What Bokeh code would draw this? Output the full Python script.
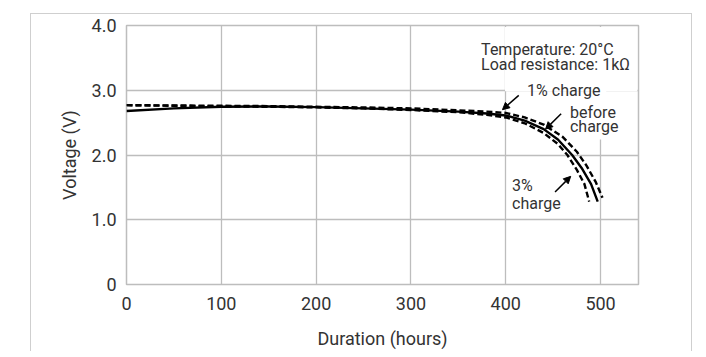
from bokeh.plotting import figure
from bokeh.models import Range1d, FixedTicker, PrintfTickFormatter, Arrow, NormalHead, ColumnDataSource
from bokeh.embed import file_html
from bokeh.resources import INLINE
from bokeh.core.properties import value

# ---- data ----
hours_before = [0, 50, 100, 150, 200, 250, 300, 350, 380, 400, 420, 440, 455, 470, 480, 490, 497]
volts_before = [2.68, 2.72, 2.745, 2.75, 2.74, 2.72, 2.70, 2.67, 2.64, 2.61, 2.53, 2.40, 2.24, 2.00, 1.80, 1.55, 1.28]

hours_1pct = [0, 50, 100, 150, 200, 250, 300, 350, 380, 400, 420, 440, 460, 475, 485, 495, 502]
volts_1pct = [2.77, 2.765, 2.76, 2.755, 2.745, 2.735, 2.72, 2.69, 2.67, 2.65, 2.58, 2.47, 2.28, 2.05, 1.84, 1.58, 1.34]

hours_3pct = [0, 50, 100, 150, 200, 250, 300, 350, 380, 400, 420, 440, 455, 465, 475, 483, 488]
volts_3pct = [2.77, 2.76, 2.75, 2.745, 2.735, 2.72, 2.695, 2.66, 2.62, 2.58, 2.49, 2.34, 2.17, 2.00, 1.77, 1.55, 1.28]

x_ticks = [0, 100, 200, 300, 400, 500]
y_ticks = [0, 1, 2, 3, 4]

# annotation texts
note_texts = ["Temperature: 20°C", "Load resistance: 1kΩ"]
label_texts = ["1% charge", "before", "charge", "3%", "charge"]

# ---- styling / layout ----
FONT = "Roboto"
TXT = "#333333"
GRID = "#bdbdbd"
CARD = "1.5px solid #cfcfcf"

p = figure(width=660, height=335, frame_width=512, frame_height=259,
           x_range=Range1d(0, 540), y_range=Range1d(0, 4),
           min_border_left=95, min_border_right=53, min_border_top=11, min_border_bottom=65,
           output_backend="svg", toolbar_location=None,
           background_fill_color="white", border_fill_color="white",
           styles={"margin-left": "30px", "margin-top": "13px",
                   "border-top": CARD, "border-left": CARD, "border-right": CARD})

p.outline_line_color = GRID
p.outline_line_width = 1.5

for ax in (p.xaxis[0], p.yaxis[0]):
    ax.axis_line_color = None
    ax.major_tick_line_color = None
    ax.minor_tick_line_color = None
    ax.major_tick_in = 0
    ax.major_tick_out = 0
    ax.minor_tick_in = 0
    ax.minor_tick_out = 0
    ax.major_label_text_font = FONT
    ax.major_label_text_font_size = "18px"
    ax.major_label_text_color = TXT
    ax.axis_label_text_font = FONT
    ax.axis_label_text_font_size = "18px"
    ax.axis_label_text_font_style = "normal"
    ax.axis_label_text_color = TXT

p.xaxis.ticker = FixedTicker(ticks=x_ticks)
p.yaxis.ticker = FixedTicker(ticks=y_ticks)
p.yaxis.formatter = PrintfTickFormatter(format="%.1f")
p.yaxis.major_label_overrides = {0: "0"}
p.xaxis.axis_label = "Duration (hours)"
p.yaxis.axis_label = "Voltage (V)"
p.xaxis.major_label_standoff = 12
p.xaxis.axis_label_standoff = 15
p.yaxis.major_label_standoff = 10
p.yaxis.axis_label_standoff = 9

p.xgrid.ticker = FixedTicker(ticks=x_ticks)
p.ygrid.ticker = FixedTicker(ticks=y_ticks)
for g in (p.xgrid[0], p.ygrid[0]):
    g.grid_line_color = GRID
    g.grid_line_width = 1.3

# white backing behind the notes (interrupts grid lines as in the reference)
p.quad(left=[399.2, 494.0], right=[538.8, 506.0], bottom=[2.985, 2.24], top=[3.975, 3.0],
       fill_color="white", line_color=None)

# curves
src_before = ColumnDataSource(dict(x=hours_before, y=volts_before))
src_1 = ColumnDataSource(dict(x=hours_1pct, y=volts_1pct))
src_3 = ColumnDataSource(dict(x=hours_3pct, y=volts_3pct))
p.line("x", "y", source=src_1, line_color="black", line_width=2.4, line_dash="6 3")
p.line("x", "y", source=src_3, line_color="black", line_width=2.4, line_dash="6 3")
p.line("x", "y", source=src_before, line_color="black", line_width=2.4)

# notes
p.text(x=[374, 374], y=[3.63, 3.39], text=note_texts,
       text_font=value(FONT), text_font_size="16px", text_color=TXT,
       text_align="left", text_baseline="middle")
p.text(x=[422.5, 467.7, 467.7, 406.7, 406.7], y=[3.0, 2.66, 2.435, 1.53, 1.25], text=label_texts,
       text_font=value(FONT), text_font_size="16px", text_color=TXT,
       text_align="left", text_baseline="middle")

# arrows
arrow_specs = [((413.7, 2.92), (396.5, 2.70)),
               ((458.4, 2.636), (442.0, 2.40)),
               ((452.0, 1.43), (468.5, 1.67))]
for (xs, ys), (xe, ye) in arrow_specs:
    p.add_layout(Arrow(end=NormalHead(size=7, fill_color="black", line_color="black", line_width=1),
                       x_start=xs, y_start=ys, x_end=xe, y_end=ye,
                       line_color="black", line_width=1.5))

open("out.html", "w").write(file_html(p, INLINE))
